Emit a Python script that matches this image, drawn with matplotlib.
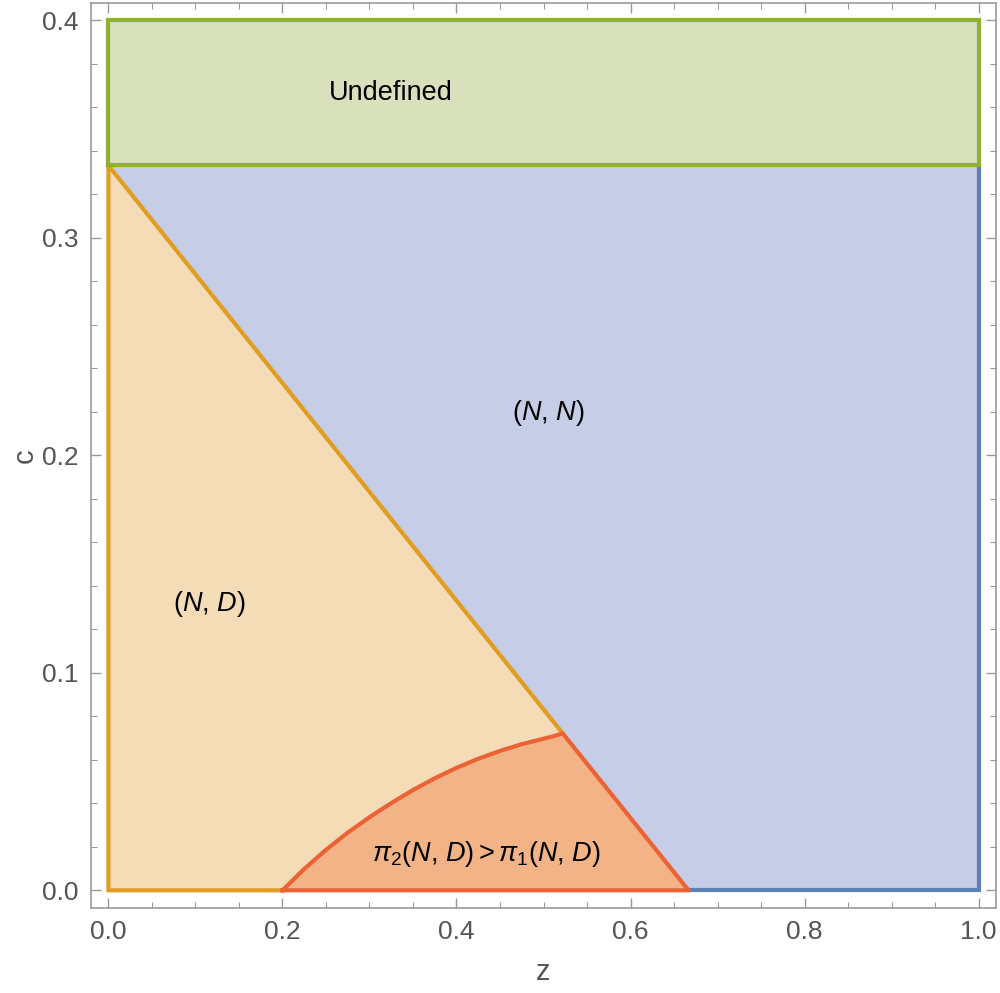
import matplotlib
matplotlib.use("Agg")
import matplotlib.pyplot as plt
import numpy as np

# ---- data ----
z_min, z_max = 0.0, 1.0
c_undefined = 1/3          # c above this is "Undefined"
c_top = 0.4
diag_z_intercept = 2/3     # (N,D)/(N,N) boundary: line from (0, 1/3) to (2/3, 0)

# boundary of the pi2 > pi1 region
curve_z = [0.200, 0.225, 0.250, 0.275, 0.300, 0.325, 0.350, 0.375, 0.400, 0.425,
           0.450, 0.475, 0.500, 0.512, 0.522]
curve_c = [0.000, 0.0098, 0.0186, 0.0265, 0.0336, 0.0401, 0.0461, 0.0515, 0.0563, 0.0605,
           0.0641, 0.0672, 0.0697, 0.0709, 0.0722]

labels = ["Undefined", r"$(N$, $N)$", r"$(N$, $D)$", r"$\pi_2(N$, $D) > \pi_1(N$, $D)$"]
label_z = [0.325, 0.505, 0.116, 0.434]
label_c = [0.3668, 0.2193, 0.1318, 0.0166]

x_ticks = [0.0, 0.2, 0.4, 0.6, 0.8, 1.0]
y_ticks = [0.0, 0.1, 0.2, 0.3, 0.4]

# ---- colours ----
blue_edge, blue_fill = "#5e81b5", "#c6cde6"
orange_edge, orange_fill = "#e19c24", "#f4dcb7"
green_edge, green_fill = "#8fb032", "#d9e0bc"
red_edge, red_fill = "#eb6235", "#f2b486"

plt.rcParams["mathtext.fontset"] = "custom"
plt.rcParams["mathtext.rm"] = "Liberation Sans"
plt.rcParams["mathtext.it"] = "Liberation Sans:italic"
plt.rcParams["font.family"] = ["Liberation Sans", "DejaVu Sans"]

fig = plt.figure(figsize=(10, 9.93), dpi=100)
ax = fig.add_axes([0.091, 0.0859, 0.905, 0.911])

lw = 3.0
# fills
ax.fill([z_min, z_max, z_max, z_min], [0, 0, c_undefined, c_undefined], color=blue_fill, lw=0, zorder=1)
ax.fill([z_min, diag_z_intercept, z_min], [0, 0, c_undefined], color=orange_fill, lw=0, zorder=2)
ax.fill([z_min, z_max, z_max, z_min], [c_undefined, c_undefined, c_top, c_top], color=green_fill, lw=0, zorder=2)
red_z = list(curve_z) + [diag_z_intercept]
red_c = list(curve_c) + [0.0]
ax.fill(red_z, red_c, color=red_fill, lw=0, zorder=3)

# edges
ax.plot([diag_z_intercept, z_max, z_max], [0, 0, c_undefined], color=blue_edge, lw=lw, zorder=4,
        solid_joinstyle="miter")
ax.plot([curve_z[0], z_min, z_min, curve_z[-1]], [0, 0, c_undefined, curve_c[-1]], color=orange_edge, lw=lw,
        zorder=5, solid_joinstyle="miter")
ax.plot([z_min, z_max, z_max, z_min, z_min], [c_undefined, c_undefined, c_top, c_top, c_undefined],
        color=green_edge, lw=lw, zorder=6, solid_joinstyle="miter")
ax.plot(red_z + [curve_z[0]], red_c + [curve_c[0]], color=red_edge, lw=lw, zorder=7,
        solid_joinstyle="round")

# labels
for t, x, y in zip(labels, label_z, label_c):
    ax.text(x, y, t, ha="center", va="center", fontsize=19.5, color="black", zorder=10)

ax.set_xlim(-0.02, 1.02)
ax.set_ylim(-0.008, 0.408)
ax.set_xticks(x_ticks)
ax.set_xticklabels([f"{v:.1f}" for v in x_ticks])
ax.set_yticks(y_ticks)
ax.set_yticklabels([f"{v:.1f}" for v in y_ticks])
ax.set_xticks(np.arange(0, 1.001, 0.05), minor=True)
ax.set_yticks(np.arange(0, 0.4001, 0.02), minor=True)

spine_col = "#999999"
for s in ax.spines.values():
    s.set_color(spine_col)
    s.set_linewidth(1.2)
ax.tick_params(which="both", direction="in", top=True, right=True, color=spine_col,
               labelcolor="#555555", labelsize=19)
ax.tick_params(which="major", length=7, width=1.0, pad=9)
ax.tick_params(which="minor", length=4, width=0.8)
ax.set_xlabel("z", fontsize=21, color="#555555", labelpad=10)
ax.set_ylabel("c", fontsize=21, color="#555555")
ax.yaxis.set_label_coords(-0.058, 0.5)

fig.savefig("out.png", dpi=100)
